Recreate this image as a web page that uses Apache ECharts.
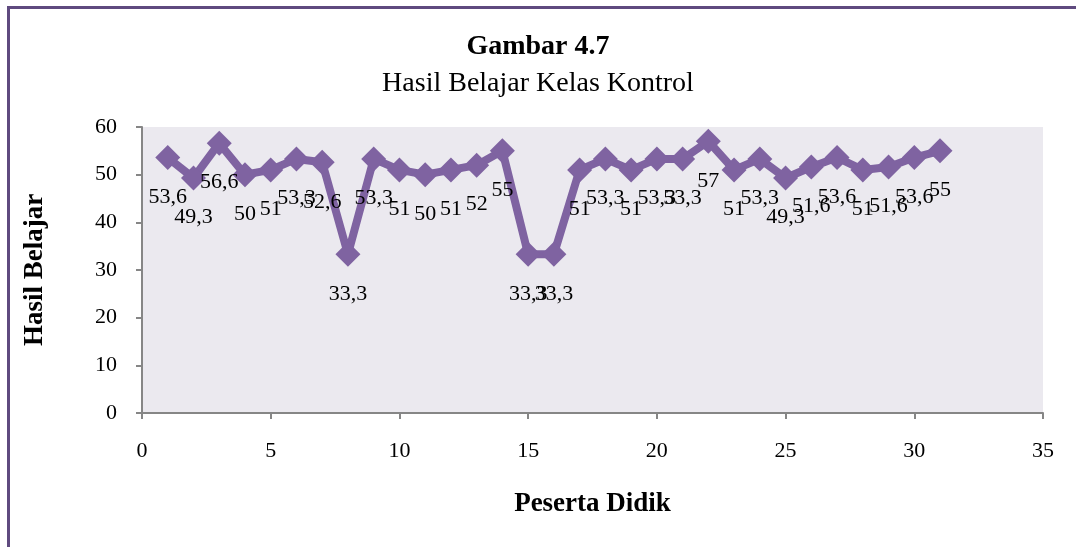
<!DOCTYPE html>
<html lang="id">
<head>
    <meta charset="UTF-8">
    <script src="https://cdn.jsdelivr.net/npm/echarts@6/dist/echarts.min.js"></script>
    <title>Gambar 4.7</title>
    <style>
        html, body { margin: 0; padding: 0; background: #fff; }
        #container { width: 1076px; height: 547px; position: relative; }
        #frame {
            position: absolute; left: 7px; top: 6px; right: -10px; bottom: -10px;
            border-left: 3px solid #5f4a7f; border-top: 3px solid #5f4a7f;
            pointer-events: none;
        }
    </style>
</head>
<body>
<div id="container"></div>
<div id="frame"></div>
<script type="application/javascript">
    // nomor peserta didik dan nilainya
    const peserta = [1, 2, 3, 4, 5, 6, 7, 8, 9, 10, 11, 12, 13, 14, 15, 16,
        17, 18, 19, 20, 21, 22, 23, 24, 25, 26, 27, 28, 29, 30, 31];
    const nilai = [53.6, 49.3, 56.6, 50, 51, 53.3, 52.6, 33.3, 53.3, 51, 50, 51, 52, 55, 33.3, 33.3,
        51, 53.3, 51, 53.3, 53.3, 57, 51, 53.3, 49.3, 51.6, 53.6, 51, 51.6, 53.6, 55];
    const xTicks = [0, 5, 10, 15, 20, 25, 30, 35];
    const yTicks = [0, 10, 20, 30, 40, 50, 60];

    const font = '"Liberation Serif", "Times New Roman", serif';
    const axisGray = '#868686';

    var myChart = echarts.init(document.getElementById('container'), null, {renderer: 'canvas'});

    let data = peserta.map((p, i) => [p, nilai[i]]);

    var option = {
        animation: false,
        title: {
            text: 'Gambar 4.7',
            subtext: 'Hasil Belajar Kelas Kontrol',
            left: 'center',
            top: 28,
            itemGap: 9,
            textStyle: {fontFamily: font, fontSize: 28, fontWeight: 'bold', color: '#000'},
            subtextStyle: {fontFamily: font, fontSize: 28, color: '#000'}
        },
        grid: {left: 142, right: 33, top: 127, bottom: 134, show: true,
            backgroundColor: '#ebe9ef', borderWidth: 0},
        xAxis: {
            type: 'value',
            min: xTicks[0],
            max: xTicks[xTicks.length - 1],
            interval: 5,
            name: 'Peserta Didik',
            nameLocation: 'middle',
            nameGap: 78,
            nameTextStyle: {fontFamily: font, fontSize: 27, fontWeight: 'bold', color: '#000'},
            axisLine: {lineStyle: {color: axisGray, width: 2}},
            axisTick: {show: true, length: 6, lineStyle: {color: axisGray, width: 2}},
            splitLine: {show: false},
            axisLabel: {fontFamily: font, fontSize: 22, color: '#000', margin: 27}
        },
        yAxis: {
            type: 'value',
            min: yTicks[0],
            max: yTicks[yTicks.length - 1],
            interval: 10,
            name: 'Hasil Belajar',
            nameLocation: 'middle',
            nameGap: 93,
            nameRotate: 90,
            nameTextStyle: {fontFamily: font, fontSize: 27, fontWeight: 'bold', color: '#000'},
            axisLine: {show: true, lineStyle: {color: axisGray, width: 2}},
            axisTick: {show: true, length: 6, lineStyle: {color: axisGray, width: 2}},
            splitLine: {show: false},
            axisLabel: {fontFamily: font, fontSize: 22, color: '#000', margin: 25}
        },
        series: [{
            type: 'line',
            data: data,
            symbol: 'diamond',
            symbolSize: 25,
            lineStyle: {color: '#7f63a1', width: 8},
            itemStyle: {color: '#7f63a1'},
            label: {
                show: true,
                position: 'bottom',
                distance: 16,
                fontFamily: font,
                fontSize: 22,
                color: '#000',
                formatter: p => String(p.value[1]).replace('.', ',')
            }
        }]
    };
    myChart.setOption(option);
</script>
</body>
</html>
